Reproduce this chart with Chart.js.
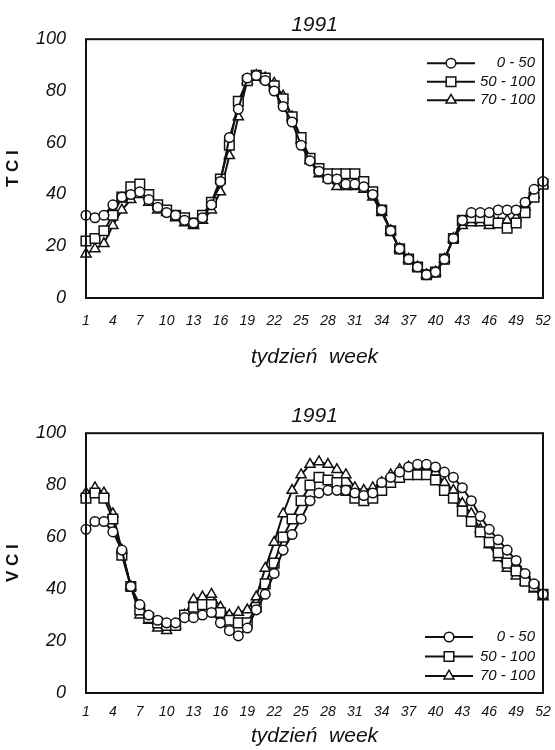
<!DOCTYPE html>
<html>
<head>
<meta charset="utf-8">
<script src="https://cdn.jsdelivr.net/npm/chart.js@4.4.1/dist/chart.umd.min.js"></script>
<style>
  body { margin: 0; background: #fff; }
  canvas { position: absolute; left: 0; }
  #tci-chart { top: 0; }
  #vci-chart { top: 395px; }
</style>
</head>
<body>
<canvas id="tci-chart" width="555" height="395"></canvas>
<canvas id="vci-chart" width="555" height="355"></canvas>
<script>
// weeks of 1991
const weeks = [1, 2, 3, 4, 5, 6, 7, 8, 9, 10, 11, 12, 13, 14, 15, 16, 17, 18, 19, 20,
  21, 22, 23, 24, 25, 26, 27, 28, 29, 30, 31, 32, 33, 34, 35, 36, 37, 38, 39, 40,
  41, 42, 43, 44, 45, 46, 47, 48, 49, 50, 51, 52];
const groups = ["0 - 50", "50 - 100", "70 - 100"];

// TCI
const tciLow = [32, 31, 32, 36, 39, 40, 41, 38, 35, 33, 32, 30, 29, 31, 36, 45, 62, 73, 85, 86,
  84, 80, 74, 68, 59, 53, 49, 46, 46, 44, 44, 43, 40, 34, 26, 19, 15, 12, 9, 10,
  15, 23, 30, 33, 33, 33, 34, 34, 34, 37, 42, 45];
const tciMid = [22, 23, 26, 32, 39, 43, 44, 40, 36, 34, 32, 31, 29, 32, 37, 46, 59, 76, 84, 86,
  85, 82, 77, 70, 62, 54, 50, 48, 48, 48, 48, 45, 41, 34, 26, 19, 15, 12, 9, 10,
  15, 23, 30, 31, 31, 30, 29, 27, 29, 33, 39, 44];
const tciHigh = [17, 19, 21, 28, 34, 38, 40, 37, 34, 33, 31, 29, 28, 30, 34, 41, 55, 70, 84, 86,
  85, 83, 78, 70, 61, 53, 48, 46, 43, 43, 43, 42, 39, 33, 26, 19, 15, 12, 9, 10,
  15, 23, 28, 29, 29, 28, 29, 30, 31, 35, 40, 44];

// VCI
const vciLow = [63, 66, 66, 62, 55, 41, 34, 30, 28, 27, 27, 29, 29, 30, 31, 27, 24, 22, 25, 32,
  38, 46, 55, 61, 67, 74, 77, 78, 78, 78, 77, 76, 77, 81, 83, 85, 87, 88, 88, 87,
  85, 83, 79, 74, 68, 63, 59, 55, 51, 46, 42, 38];
const vciMid = [75, 77, 75, 67, 53, 41, 32, 29, 27, 26, 26, 30, 33, 34, 34, 31, 28, 27, 27, 33,
  42, 50, 60, 67, 74, 80, 83, 82, 81, 78, 75, 74, 75, 78, 81, 83, 84, 84, 84, 82,
  78, 75, 70, 66, 62, 58, 54, 50, 47, 43, 41, 38];
const vciHigh = [77, 79, 77, 69, 55, 41, 30, 28, 25, 24, 26, 30, 36, 37, 38, 33, 30, 31, 32, 37,
  48, 58, 69, 78, 84, 88, 89, 88, 86, 84, 79, 78, 79, 81, 84, 86, 87, 87, 87, 85,
  81, 78, 73, 69, 63, 57, 52, 48, 45, 43, 40, 37];

const ink = "#111";
Chart.defaults.font.family = "'Liberation Sans', Arial, sans-serif";
Chart.defaults.color = ink;

// frame round the plot area
const framePlugin = {
  id: "frame",
  afterDatasetsDraw(chart) {
    const a = chart.chartArea, ctx = chart.ctx;
    ctx.save();
    ctx.strokeStyle = ink;
    ctx.lineWidth = 2;
    ctx.strokeRect(a.left, a.top, a.right - a.left, a.bottom - a.top);
    ctx.restore();
  },
};

// legend drawn inside the plot: line with marker, label right aligned
const boxLegend = {
  id: "boxLegend",
  afterDraw(chart, args, opts) {
    const a = chart.chartArea, ctx = chart.ctx;
    const n = chart.data.datasets.length;
    let y0 = opts.top != null ? a.top + opts.top : a.bottom - opts.bottom - (n - 1) * opts.gap;
    ctx.save();
    chart.data.datasets.forEach((ds, i) => {
      const y = y0 + i * opts.gap;
      const x1 = a.right - opts.lineEnd, x0 = x1 - 48;
      ctx.strokeStyle = ink;
      ctx.lineWidth = 2;
      ctx.beginPath();
      ctx.moveTo(x0, y);
      ctx.lineTo(x1, y);
      ctx.stroke();
      ctx.fillStyle = "#fff";
      ctx.lineWidth = 1.5;
      Chart.helpers.drawPoint(ctx, { pointStyle: ds.pointStyle, radius: ds.pointRadius, rotation: 0, borderWidth: 1.5 }, (x0 + x1) / 2, y);
      ctx.fillStyle = ink;
      ctx.font = "italic 15px 'Liberation Sans', Arial, sans-serif";
      ctx.textAlign = "right";
      ctx.textBaseline = "middle";
      ctx.fillText(ds.label, a.right - 8, y);
    });
    ctx.restore();
  },
};

function makeDatasets(low, mid, high) {
  const base = {
    borderColor: ink,
    borderWidth: 2,
    pointBackgroundColor: "#fff",
    pointBorderColor: ink,
    pointBorderWidth: 1.5,
    tension: 0,
  };
  return [
    { ...base, label: groups[0], data: low, pointStyle: "circle", pointRadius: 4.8 },
    { ...base, label: groups[1], data: mid, pointStyle: "rect", pointRadius: 6.8 },
    { ...base, label: groups[2], data: high, pointStyle: "triangle", pointRadius: 5.8 },
  ];
}

function makeOptions(yTitle, c) {
  return {
    responsive: false,
    animation: false,
    devicePixelRatio: 1,
    layout: { padding: { left: 0, right: 12, top: 0, bottom: 0 } },
    plugins: {
      legend: { display: false },
      tooltip: { enabled: false },
      title: {
        display: true,
        text: "1991",
        fullSize: false,
        font: { size: 21, style: "italic", weight: "normal" },
        padding: c.titlePad,
      },
      boxLegend: c.legend,
    },
    scales: {
      x: {
        // hidden tick marks give the label offset without widening the side padding
        grid: { display: false, drawTicks: true, tickLength: c.tickGap },
        border: { display: false },
        ticks: {
          autoSkip: false,
          maxRotation: 0,
          padding: 0,
          font: { size: 14, style: "italic" },
          callback: (v, i) => (i % 3 === 0 ? weeks[i] : ""),
        },
        title: {
          display: true,
          text: "tydzień  week",
          font: { size: 21, style: "italic" },
          padding: { top: 0, bottom: c.xTitlePad },
        },
        afterFit: (s) => { s.height = c.xHeight; },
      },
      y: {
        min: 0,
        max: 100,
        grid: { display: false, drawTicks: true, tickLength: 20 },
        border: { display: false },
        ticks: { stepSize: 20, padding: 0, font: { size: 18, style: "italic" } },
        title: {
          display: true,
          text: yTitle,
          font: { size: 17, weight: "bold" },
          padding: { top: 3, bottom: 0 },
        },
        afterFit: (s) => { s.width = 86; },
      },
    },
  };
}

new Chart(document.getElementById("tci-chart"), {
  type: "line",
  data: { labels: weeks, datasets: makeDatasets(tciLow, tciMid, tciHigh) },
  options: makeOptions("T C I", {
    titlePad: { top: 13, bottom: 1 },
    tickGap: 15,
    xHeight: 97,
    xTitlePad: 25,
    legend: { top: 24, gap: 18.5, lineEnd: 68 },
  }),
  plugins: [framePlugin, boxLegend],
});

new Chart(document.getElementById("vci-chart"), {
  type: "line",
  data: { labels: weeks, datasets: makeDatasets(vciLow, vciMid, vciHigh) },
  options: makeOptions("V C I", {
    titlePad: { top: 9, bottom: 4 },
    tickGap: 11,
    xHeight: 57,
    xTitlePad: 1,
    legend: { bottom: 17, gap: 19.5, lineEnd: 70 },
  }),
  plugins: [framePlugin, boxLegend],
});
</script>
</body>
</html>
